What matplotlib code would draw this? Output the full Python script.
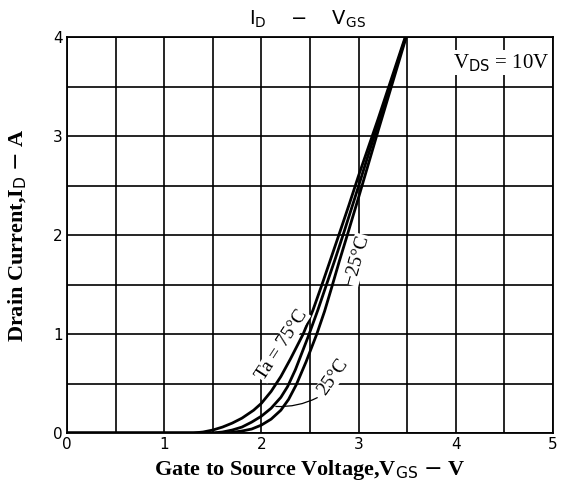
import matplotlib
matplotlib.use("Agg")
import matplotlib.pyplot as plt
from matplotlib.ticker import MultipleLocator

# Data (V_GS in V, I_D in A)
vgs_75 = [0.0, 1.3, 1.4, 1.5, 1.6, 1.7, 1.8, 1.92, 2.0, 2.1, 2.2, 2.3, 2.43,
          2.53, 2.62, 2.7, 2.79, 2.9, 3.0, 3.2, 3.48]
id_75 = [0.0, 0.0, 0.01, 0.03, 0.06, 0.1, 0.15, 0.23, 0.3, 0.42, 0.57, 0.75, 1.0,
         1.24, 1.49, 1.72, 1.98, 2.3, 2.6, 3.17, 4.0]

vgs_25 = [0.0, 1.5, 1.6, 1.7, 1.8, 1.9, 2.0, 2.1, 2.2, 2.27, 2.35, 2.48, 2.58,
          2.67, 2.76, 2.84, 2.96, 3.1, 3.3, 3.485]
id_25 = [0.0, 0.0, 0.01, 0.03, 0.06, 0.11, 0.17, 0.25, 0.36, 0.47, 0.64, 0.97, 1.24,
         1.5, 1.76, 2.0, 2.37, 2.81, 3.43, 4.0]

vgs_m25 = [0.0, 1.65, 1.8, 1.9, 2.0, 2.1, 2.2, 2.28, 2.36, 2.46, 2.57, 2.65, 2.72,
           2.8, 2.89, 3.0, 3.2, 3.49]
id_m25 = [0.0, 0.0, 0.02, 0.04, 0.08, 0.14, 0.23, 0.34, 0.49, 0.72, 1.0, 1.23, 1.46,
          1.73, 2.02, 2.38, 3.05, 4.0]

x_ticks = [0, 1, 2, 3, 4, 5]
y_ticks = [0, 1, 2, 3, 4]

fig = plt.figure(figsize=(5.63, 4.91), dpi=100)
ax = fig.add_axes([67/563, 1-433/491, (553-67)/563, (433-37)/491])

ax.set_xlim(0, 5)
ax.set_ylim(0, 4)
ax.set_xticks(x_ticks)
ax.set_yticks(y_ticks)
ax.xaxis.set_minor_locator(MultipleLocator(0.5))
ax.yaxis.set_minor_locator(MultipleLocator(0.5))
ax.grid(True, which="both", color="black", linewidth=1.2)
ax.set_axisbelow(True)
ax.tick_params(which="both", length=0, labelsize=11, pad=3)
for s in ax.spines.values():
    s.set_linewidth(1.3)

for v, i in [(vgs_75, id_75), (vgs_25, id_25), (vgs_m25, id_m25)]:
    ax.plot(v, i, color="black", linewidth=2.0, solid_capstyle="round",
            solid_joinstyle="round")

serif = ["Liberation Serif", "DejaVu Serif"]
ax.set_xlabel(r"Gate to Source Voltage,V$_{\rm GS}$ $-$ V", fontsize=16,
              family=serif, fontweight="bold", labelpad=4)
ax.set_ylabel(r"Drain Current,I$_{\rm D}$ $-$ A", fontsize=16,
              family=serif, fontweight="bold")
ax.yaxis.set_label_coords(-0.078, 0.5)
fig.text(307/563, 1-19/491, r"I$_{\rm D}$    $-$    V$_{\rm GS}$", ha="center",
         va="center", fontsize=14)

ax.text(4.96, 3.74, r"V$_{\rm DS}$ = 10V", ha="right", va="center", fontsize=15,
        family=serif, bbox=dict(facecolor="white", edgecolor="none", pad=1))

ax.text(2.21, 0.89, "Ta = 75°C", rotation=57, ha="center", va="center",
        fontsize=14, family=serif,
        bbox=dict(facecolor="white", edgecolor="none", pad=0.3))
ax.text(2.98, 1.75, "\u221225°C", rotation=74, ha="center", va="center",
        fontsize=14, family=serif,
        bbox=dict(facecolor="white", edgecolor="none", pad=0.3))
ax.text(2.74, 0.57, "25°C", rotation=55, ha="center", va="center",
        fontsize=14, family=serif,
        bbox=dict(facecolor="white", edgecolor="none", pad=0.3))
ax.annotate("", xy=(2.12, 0.27), xytext=(2.6, 0.37),
            arrowprops=dict(arrowstyle="-", color="black", linewidth=0.9,
                            connectionstyle="arc3,rad=-0.15"))

fig.savefig("out.png", dpi=100)
